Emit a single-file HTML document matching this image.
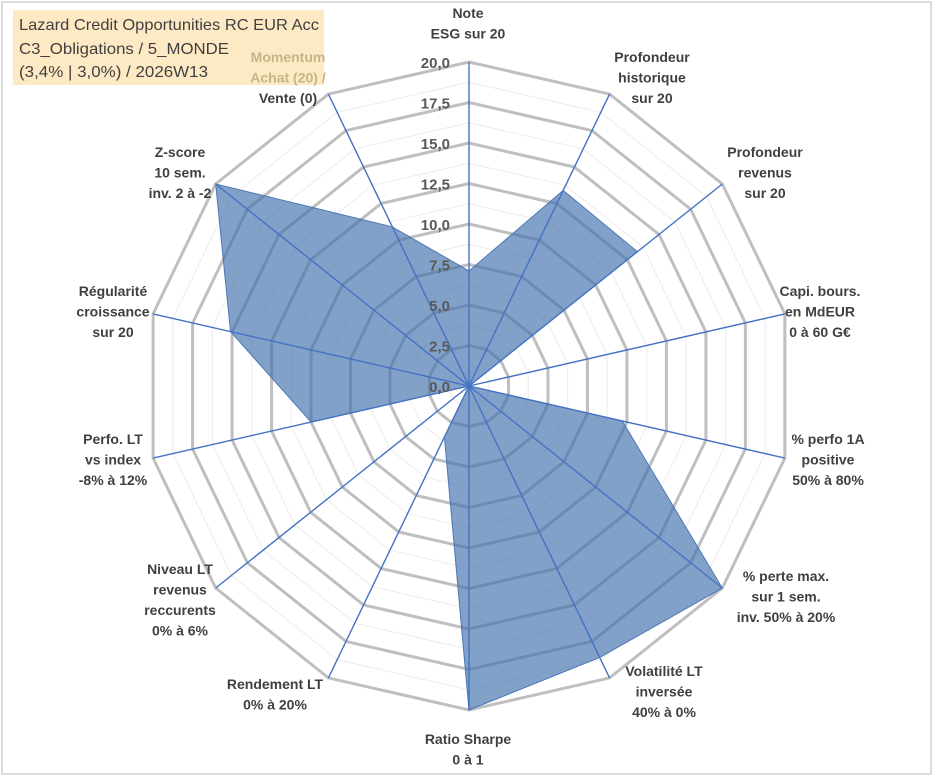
<!DOCTYPE html>
<html><head><meta charset="utf-8"><style>
body{margin:0;background:#fff;}
svg{display:block;font-family:"Liberation Sans",sans-serif;}
.lbl{font-size:14px;font-weight:bold;fill:#404040;text-anchor:middle;}
.tick{font-size:15px;font-weight:bold;fill:#595959;text-anchor:end;}
.ttl{font-size:16px;fill:#404040;}
</style></head><body>
<svg id="chart" width="933" height="776">
<rect x="2" y="2" width="929" height="772" fill="#fff" stroke="#d0d0d0" stroke-width="1.5"/>
<rect x="13" y="10" width="311" height="75" fill="#fde9c3"/>
<text class="ttl" x="19" y="30" textLength="300" lengthAdjust="spacingAndGlyphs">Lazard Credit Opportunities RC EUR Acc</text>
<text class="ttl" x="19" y="54" textLength="210" lengthAdjust="spacingAndGlyphs">C3_Obligations / 5_MONDE</text>
<text class="ttl" x="19" y="77" textLength="189" lengthAdjust="spacingAndGlyphs">(3,4% | 3,0%) / 2026W13</text>
<g id="grid"></g><g id="series"></g><g id="spokes"></g><g id="ticks"></g><g id="labels"></g>
</svg>
<script>
const categories=["Note|ESG sur 20","Profondeur|historique|sur 20","Profondeur|revenus|sur 20","Capi. bours.|en MdEUR|0 à 60 G€","% perfo 1A|positive|50% à 80%","% perte max.|sur 1 sem.|inv. 50% à 20%","Volatilité LT|inversée|40% à 0%","Ratio Sharpe|0 à 1","Rendement LT|0% à 20%","Niveau LT|revenus|reccurents|0% à 6%","Perfo. LT|vs index|-8% à 12%","Régularité|croissance|sur 20","Z-score|10 sem.|inv. 2 à -2","Momentum|Achat (20) /|Vente (0)"];
const values=[7.1,13.4,13.3,0,9.7,20,18.6,20,3.5,0,10,15.1,20,10.9];
const tickLabels=["0,0","2,5","5,0","7,5","10,0","12,5","15,0","17,5","20,0"];
const labelPos=[[468,18],[652,62],[765,157],[820,296],[828,444],[786,581],[664,676],[468,744],[275,689],[180,574],[113,444],[113,296],[180,157],[288,62]];
const cx=469,cy=386,R=324,maxV=20,N=categories.length;
const ns="http://www.w3.org/2000/svg";
function rad(v){return v/maxV*R;}
function pt(i,v){const a=2*Math.PI*i/N;return [cx+rad(v)*Math.sin(a),cy-rad(v)*Math.cos(a)];}
function mk(t,attrs,parent){const e=document.createElementNS(ns,t);for(const k in attrs)e.setAttribute(k,attrs[k]);parent.appendChild(e);return e;}
const grid=document.getElementById('grid');
for(let s=1;s<=16;s++){const v=s*1.25;const pts=[];for(let i=0;i<N;i++)pts.push(pt(i,v).join(','));
const major=s%2===0;
const p=mk('polygon',{points:pts.join(' '),fill:'none',stroke:major?'#bfbfbf':'#ececec','stroke-width':major?3:1},grid);

}
const series=document.getElementById('series');
const sp=mk('polygon',{points:values.map((v,i)=>pt(i,v).join(',')).join(' '),fill:'rgba(66,112,172,0.66)',stroke:'#4a78b8','stroke-width':1},series);


const spokes=document.getElementById('spokes');
for(let i=0;i<N;i++){const e=pt(i,maxV);const l=mk('line',{x1:cx,y1:cy,x2:e[0],y2:e[1],stroke:'#4472c4','stroke-width':1.4},spokes);

}
const ticks=document.getElementById('ticks');
tickLabels.forEach((t,k)=>{const y=cy-rad(k*2.5);const tx=mk('text',{x:450,y:y+6,class:'tick'},ticks);tx.textContent=t;

});
const labels=document.getElementById('labels');
categories.forEach((c,i)=>{const g=mk('g',{},labels);


c.split('|').forEach((line,j)=>{const t=mk('text',{x:labelPos[i][0],y:labelPos[i][1]+j*20.5,class:'lbl'},g);
if(i===13&&j<2)t.setAttribute('style','fill:#c6b48a');
t.textContent=line;});});
</script>
</body></html>
